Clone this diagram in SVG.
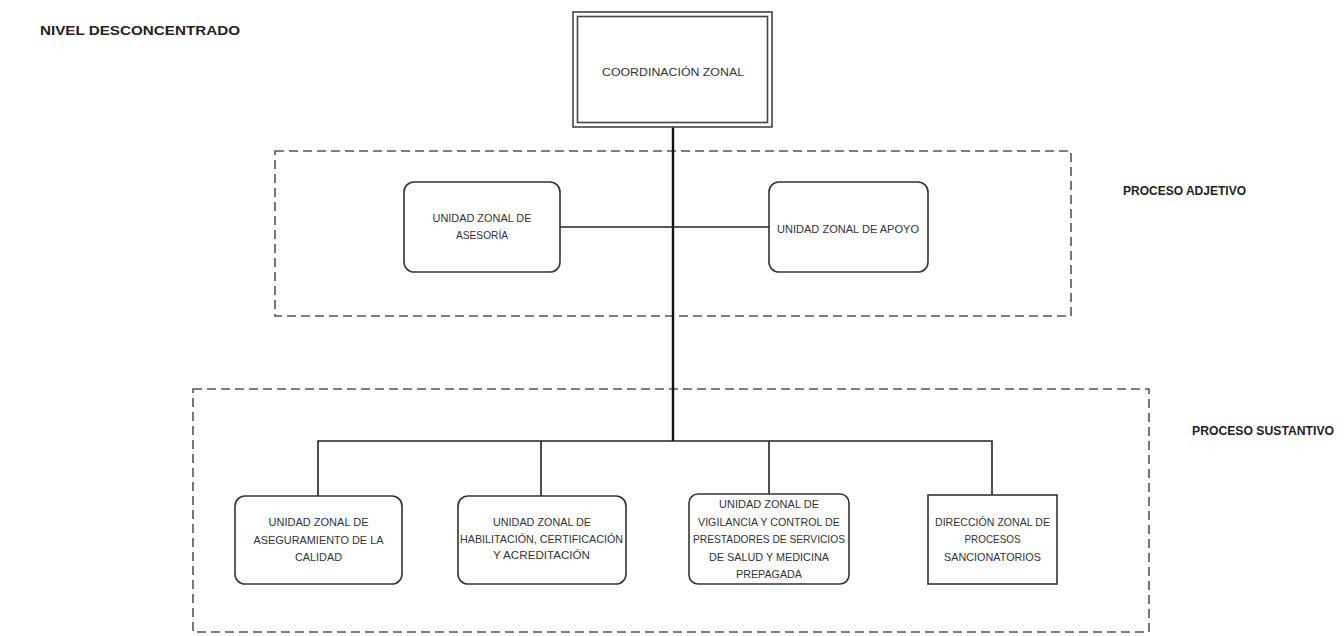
<svg xmlns="http://www.w3.org/2000/svg" width="1344" height="636" viewBox="0 0 1344 636">
<style>
.t{font-family:"Liberation Sans","DejaVu Sans",sans-serif;font-size:11px;fill:#333;text-anchor:middle}
.h{font-family:"Liberation Sans","DejaVu Sans",sans-serif;font-size:13px;font-weight:bold;fill:#222}
.box{fill:#fff;stroke:#333;stroke-width:1.6}
.dash{fill:none;stroke:#555;stroke-width:1.6;stroke-dasharray:9 5}
.ln{fill:none;stroke:#222;stroke-width:1.6}
.trunk{fill:none;stroke:#111;stroke-width:2.4}
</style>
<rect width="1344" height="636" fill="#fff"/>
<g id="labels">
<text class="h" x="40" y="35" textLength="200" lengthAdjust="spacingAndGlyphs">NIVEL DESCONCENTRADO</text>
<text class="h" x="1123" y="195" textLength="123" lengthAdjust="spacingAndGlyphs">PROCESO ADJETIVO</text>
<text class="h" x="1192" y="435" textLength="142" lengthAdjust="spacingAndGlyphs">PROCESO SUSTANTIVO</text>
</g>
<g id="groups">
<rect class="dash" x="275" y="151" width="796" height="165"/>
<rect class="dash" x="193" y="389" width="956" height="243"/>
</g>
<g id="connectors">
<line class="trunk" x1="673" y1="127" x2="673" y2="441"/>
<line class="ln" x1="560" y1="227" x2="769" y2="227"/>
<polyline class="ln" points="318,496 318,441 992,441 992,495"/>
<line class="ln" x1="541" y1="441" x2="541" y2="496"/>
<line class="ln" x1="769" y1="441" x2="769" y2="494"/>
</g>
<g id="coordinacion">
<rect x="573" y="12" width="199" height="115" fill="#fff" stroke="#444" stroke-width="1.6"/>
<rect x="577.5" y="16.5" width="190" height="106" fill="none" stroke="#444" stroke-width="1.6"/>
<text class="t" x="673" y="76" font-size="13" textLength="142" lengthAdjust="spacingAndGlyphs">COORDINACIÓN ZONAL</text>
</g>
<g id="asesoria">
<rect class="box" x="404" y="182" width="156" height="90" rx="10"/>
<text class="t" x="482" y="222" textLength="99" lengthAdjust="spacingAndGlyphs">UNIDAD ZONAL DE</text>
<text class="t" x="482" y="239" textLength="52" lengthAdjust="spacingAndGlyphs">ASESORÍA</text>
</g>
<g id="apoyo">
<rect class="box" x="769" y="182" width="159" height="90" rx="10"/>
<text class="t" x="848" y="233" textLength="142" lengthAdjust="spacingAndGlyphs">UNIDAD ZONAL DE APOYO</text>
</g>
<g id="aseguramiento">
<rect class="box" x="235" y="496" width="167" height="88" rx="10"/>
<text class="t" x="318.5" y="526" textLength="100" lengthAdjust="spacingAndGlyphs">UNIDAD ZONAL DE</text>
<text class="t" x="318.5" y="543.5" textLength="130" lengthAdjust="spacingAndGlyphs">ASEGURAMIENTO DE LA</text>
<text class="t" x="318.5" y="561" textLength="47" lengthAdjust="spacingAndGlyphs">CALIDAD</text>
</g>
<g id="habilitacion">
<rect class="box" x="458" y="496" width="168" height="88" rx="10"/>
<text class="t" x="542" y="526" textLength="98" lengthAdjust="spacingAndGlyphs">UNIDAD ZONAL DE</text>
<text class="t" x="541.5" y="542.5" textLength="163" lengthAdjust="spacingAndGlyphs">HABILITACIÓN, CERTIFICACIÓN</text>
<text class="t" x="541.5" y="559" textLength="97" lengthAdjust="spacingAndGlyphs">Y ACREDITACIÓN</text>
</g>
<g id="vigilancia">
<rect class="box" x="689" y="494" width="160" height="90" rx="9"/>
<text class="t" x="769" y="508" textLength="100" lengthAdjust="spacingAndGlyphs">UNIDAD ZONAL DE</text>
<text class="t" x="769" y="525.5" textLength="142" lengthAdjust="spacingAndGlyphs">VIGILANCIA Y CONTROL DE</text>
<text class="t" x="769" y="543" textLength="152" lengthAdjust="spacingAndGlyphs">PRESTADORES DE SERVICIOS</text>
<text class="t" x="769" y="560.5" textLength="120" lengthAdjust="spacingAndGlyphs">DE SALUD Y MEDICINA</text>
<text class="t" x="769" y="578" textLength="66" lengthAdjust="spacingAndGlyphs">PREPAGADA</text>
</g>
<g id="sancionatorios">
<rect class="box" x="928" y="495" width="129" height="89"/>
<text class="t" x="992.5" y="525.5" textLength="115" lengthAdjust="spacingAndGlyphs">DIRECCIÓN ZONAL DE</text>
<text class="t" x="992.5" y="543" textLength="56" lengthAdjust="spacingAndGlyphs">PROCESOS</text>
<text class="t" x="992.5" y="560.5" textLength="97" lengthAdjust="spacingAndGlyphs">SANCIONATORIOS</text>
</g>
</svg>
